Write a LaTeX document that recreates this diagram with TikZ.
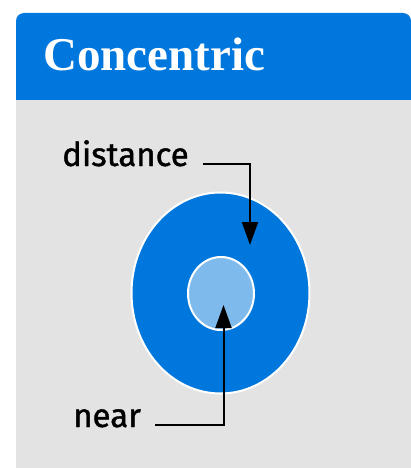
\documentclass[tikz,border=0pt]{standalone}
\usepackage{fontspec}
\setmainfont{Liberation Serif}
\newfontfamily\labelfont[FakeBold=1.2]{Fira Sans}
\usetikzlibrary{arrows.meta,shapes.geometric}

\definecolor{ringblue}{HTML}{0077DD}
\definecolor{coreblue}{HTML}{7FBAEC}
\definecolor{panelgray}{HTML}{E3E3E3}

\tikzset{
  ring/.style={ellipse, draw=white, line width=2pt, inner sep=0pt},
  tag/.style={anchor=base west, inner sep=0pt, font=\labelfont\fontsize{33}{33}\selectfont},
  pointer/.style={line width=2pt, -{Triangle[width=16pt,length=23pt]}, shorten <=14pt},
}

\begin{document}
\begin{tikzpicture}[x=1pt, y=-1pt]
                \useasboundingbox (0,0) rectangle (411,468);
                % panel and header bar
                \fill[panelgray] (16,100) rectangle (411,468);
                \fill[ringblue, rounded corners=8pt] (16,13) rectangle (411,60);
                \fill[ringblue] (16,40) rectangle (411,100);
                \node (title) [anchor=base west, inner sep=0pt, text=white, font=\bfseries\fontsize{47}{47}\selectfont] at (43,71) {Concentric};
                % the two rings
                \node (outer) [ring, fill=ringblue, minimum width=178pt, minimum height=201pt] at (220.5,293) {};
                \node (inner) [ring, fill=coreblue, minimum width=66pt, minimum height=73pt] at (221,293.5) {};
                \coordinate (far) at (250,245);
                \coordinate (close) at (223.5,305);
                % labels
                \node (distance) [tag] at (62,166) {distance};
                \node (near) [tag] at (73,427) {near};
                \draw[pointer] (distance.mid east) -| (far);
                \draw[pointer] (near.mid east) -| (close);
            \end{tikzpicture}
\end{document}
